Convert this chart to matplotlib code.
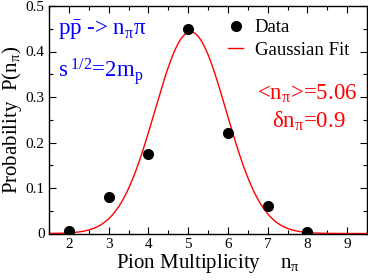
import numpy as np
import matplotlib
matplotlib.use("Agg")
import matplotlib.pyplot as plt
from matplotlib.ticker import MultipleLocator

plt.rcParams['font.family'] = ['Liberation Serif', 'DejaVu Serif']
plt.rcParams['mathtext.fontset'] = 'custom'
plt.rcParams['mathtext.rm'] = 'Liberation Serif'
plt.rcParams['mathtext.it'] = 'Liberation Serif:italic'
plt.rcParams['mathtext.bf'] = 'Liberation Serif:bold'

n_pi = [2, 3, 4, 5, 6, 7, 8]
prob = [0.005, 0.08, 0.175, 0.45, 0.22, 0.06, 0.003]
fit_mean = 5.06
fit_sigma = 0.9

fig = plt.figure(figsize=(3.68, 2.80), dpi=100)
ax = fig.add_axes([49/368, 1-233.5/280, (367-49)/368, (233.5-6)/280])

xs = np.linspace(1.5, 9.5, 400)
ys = np.exp(-0.5*((xs-fit_mean)/fit_sigma)**2)/(fit_sigma*np.sqrt(2*np.pi))
ax.plot(n_pi, prob, 'o', color='black', ms=7, label='Data', zorder=3)
ax.plot(xs, ys, '-', color='red', lw=1.0, label='Gaussian Fit')

ax.set_xlim(1.5, 9.5)
ax.set_ylim(0, 0.5)
ax.xaxis.set_major_locator(MultipleLocator(1))
ax.xaxis.set_minor_locator(MultipleLocator(0.5))
ax.yaxis.set_major_locator(MultipleLocator(0.1))
ax.yaxis.set_minor_locator(MultipleLocator(0.05))
ax.set_xticks([2, 3, 4, 5, 6, 7, 8, 9])
ax.set_yticks([0, 0.1, 0.2, 0.3, 0.4, 0.5])
ax.set_yticklabels(['0', '0.1', '0.2', '0.3', '0.4', '0.5'])
ax.tick_params(which='both', direction='in', top=True, right=True, labelsize=11)
ax.tick_params(which='major', length=5, width=0.8, pad=3)
ax.tick_params(which='minor', length=3, width=0.8)
for s in ax.spines.values():
    s.set_linewidth(1.0)

ax.set_xlabel(r'Pion Multiplicity    n$_\mathrm{π}$', fontsize=15, labelpad=1)
ax.set_ylabel(r'Probability  P(n$_\mathrm{π}$)', fontsize=15, labelpad=1)

ax.text(0.027, 0.8725, r'p$\bar{\mathrm{p}}$ -> n$_\mathrm{π}$π', transform=ax.transAxes,
        color='blue', fontsize=16.5, va='baseline', ha='left')
ax.text(0.027, 0.688, r's$^{\ 1/2}$=2m$_\mathrm{p}$', transform=ax.transAxes,
        color='blue', fontsize=16.5, va='baseline', ha='left')
ax.text(0.969, 0.587, r'<n$_\mathrm{π}$>=5.06', transform=ax.transAxes,
        color='red', fontsize=16.5, va='baseline', ha='right')
ax.text(0.934, 0.464, r'δn$_\mathrm{π}$=0.9', transform=ax.transAxes,
        color='red', fontsize=16.5, va='baseline', ha='right')

ax.legend(loc='upper right', frameon=False, fontsize=13.5, handlelength=0.8,
          handletextpad=0.6, borderaxespad=0.3, labelspacing=0.3,
          bbox_to_anchor=(0.985, 1.0))

fig.savefig('out.png', dpi=100)
